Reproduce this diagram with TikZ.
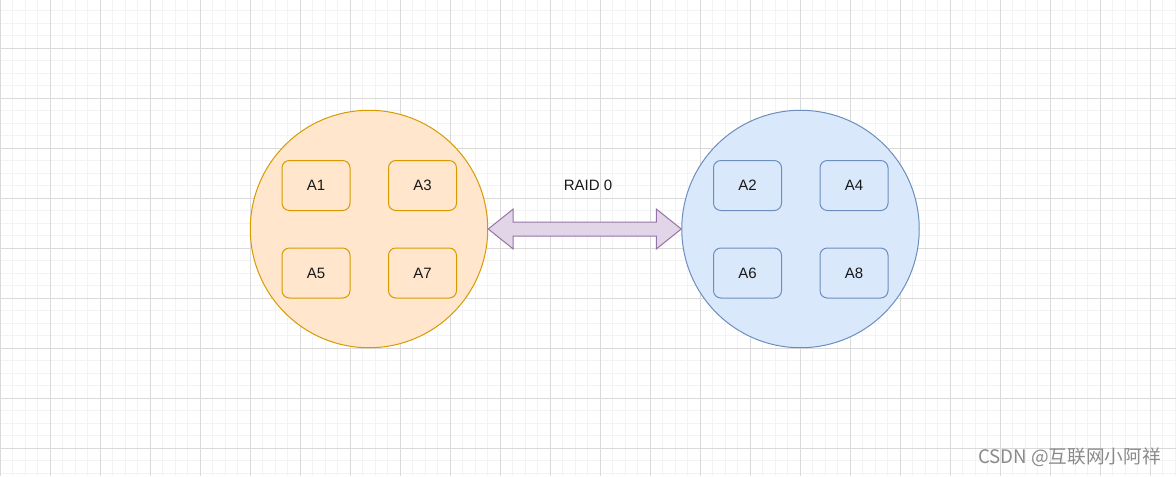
\documentclass[tikz,border=0pt]{standalone}
\usepackage{fontspec}
\setmainfont{Liberation Sans}
\newfontfamily\cjk{Noto Sans CJK SC}
\usetikzlibrary{calc}
\definecolor{minorgrid}{HTML}{F3F3F3}
\definecolor{majorgrid}{HTML}{DADADA}
\definecolor{orfill}{HTML}{FFE6CC}
\definecolor{ordraw}{HTML}{D79B00}
\definecolor{blfill}{HTML}{DAE8FC}
\definecolor{bldraw}{HTML}{6C8EBF}
\definecolor{pufill}{HTML}{E1D5E7}
\definecolor{pudraw}{HTML}{9673A6}
\definecolor{wm}{HTML}{8A8A8A}
\tikzset{
  disk/.style={circle, minimum size=178.1pt, inner sep=0pt, line width=0.75pt},
  orangedisk/.style={disk, fill=orfill, draw=ordraw},
  bluedisk/.style={disk, fill=blfill, draw=bldraw},
  blockbox/.style={rectangle, rounded corners=5.5pt, minimum width=51pt, minimum height=37.5pt, inner sep=0pt, line width=0.75pt, font=\fontsize{11.25pt}{13pt}\selectfont, text=black!90},
  orangebox/.style={blockbox, fill=orfill, draw=ordraw},
  bluebox/.style={blockbox, fill=blfill, draw=bldraw},
  linkarrow/.style={fill=pufill, draw=pudraw, line width=0.75pt, line join=miter},
  minorline/.style={draw=minorgrid, line width=0.75pt},
  majorline/.style={draw=majorgrid, line width=0.75pt},
}
\begin{document}
\begin{tikzpicture}[x=0.75pt, y=-0.75pt]
\useasboundingbox (0,0) rectangle (1176,476);
\fill[white] (0,0) rectangle (1176,476);
% grid
\foreach \i in {0,...,94} { \draw[minorline] (\i*12.5,0) -- (\i*12.5,476); }
\foreach \j in {0,...,38} { \draw[minorline] (0,10.5+\j*12.5) -- (1176,10.5+\j*12.5); }
\foreach \i in {0,...,23} { \draw[majorline] (\i*50,0) -- (\i*50,476); }
\foreach \j in {0,...,8} { \draw[majorline] (0,48+\j*50) -- (1176,48+\j*50); }
% disks
\node[orangedisk] (L) at (369,229) {};
\node[bluedisk] (R) at (800.5,229) {};
% blocks
\node[orangebox] (A1) at (316,185.5) {A1};
\node[orangebox] (A3) at (422.5,185.5) {A3};
\node[orangebox] (A5) at (316,273) {A5};
\node[orangebox] (A7) at (422.5,273) {A7};
\node[bluebox] (A2) at (747.5,185.5) {A2};
\node[bluebox] (A4) at (854,185.5) {A4};
\node[bluebox] (A6) at (747.5,273) {A6};
\node[bluebox] (A8) at (854,273) {A8};
% double arrow
\coordinate (lt) at (L.east);
\coordinate (rt) at (R.west);
\draw[linkarrow] (lt) -- ($(lt)+(25,-20)$) -- ($(lt)+(25,-7)$) -- ($(rt)+(-25,-7)$) -- ($(rt)+(-25,-20)$) -- (rt)
  -- ($(rt)+(-25,20)$) -- ($(rt)+(-25,7)$) -- ($(lt)+(25,7)$) -- ($(lt)+(25,20)$) -- cycle;
\node[font=\fontsize{11.25pt}{13pt}\selectfont, text=black!90] (lbl) at (588,185) {RAID 0};
% watermark
\node[anchor=east, font=\fontsize{14pt}{16pt}\selectfont, text=wm, inner sep=0pt] (wmk) at (1161,457) {\cjk CSDN @互联网小阿祥};
\end{tikzpicture}
\end{document}
